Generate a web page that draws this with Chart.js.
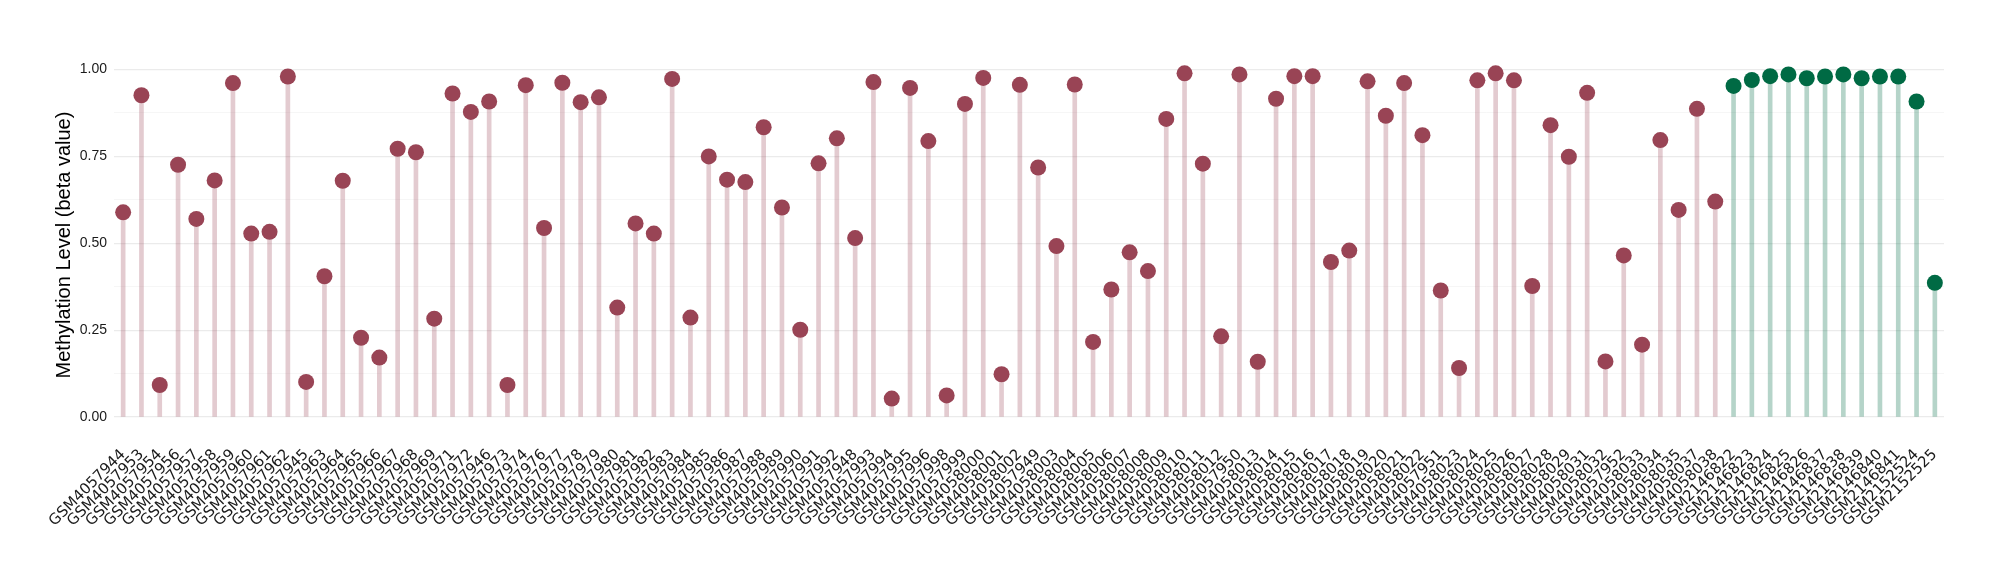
<!DOCTYPE html>
<html>
<head>
<meta charset="utf-8">
<script src="https://cdn.jsdelivr.net/npm/chart.js@4/dist/chart.umd.min.js"></script>
<style>
  html, body { margin: 0; padding: 0; background: #ffffff; }
  #wrap { width: 2000px; height: 580px; position: relative; }
</style>
</head>
<body>
<div id="wrap"><canvas id="c" width="2000" height="580"></canvas></div>
<script>
const categories = [
  "GSM4057944","GSM4057953","GSM4057954","GSM4057956","GSM4057957","GSM4057958","GSM4057959","GSM4057960","GSM4057961","GSM4057962",
  "GSM4057945","GSM4057963","GSM4057964","GSM4057965","GSM4057966","GSM4057967","GSM4057968","GSM4057969","GSM4057971","GSM4057972",
  "GSM4057946","GSM4057973","GSM4057974","GSM4057976","GSM4057977","GSM4057978","GSM4057979","GSM4057980","GSM4057981","GSM4057982",
  "GSM4057983","GSM4057984","GSM4057985","GSM4057986","GSM4057987","GSM4057988","GSM4057989","GSM4057990","GSM4057991","GSM4057992",
  "GSM4057948","GSM4057993","GSM4057994","GSM4057995","GSM4057996","GSM4057998","GSM4057999","GSM4058000","GSM4058001","GSM4058002",
  "GSM4057949","GSM4058003","GSM4058004","GSM4058005","GSM4058006","GSM4058007","GSM4058008","GSM4058009","GSM4058010","GSM4058011",
  "GSM4058012","GSM4057950","GSM4058013","GSM4058014","GSM4058015","GSM4058016","GSM4058017","GSM4058018","GSM4058019","GSM4058020",
  "GSM4058021","GSM4058022","GSM4057951","GSM4058023","GSM4058024","GSM4058025","GSM4058026","GSM4058027","GSM4058028","GSM4058029",
  "GSM4058031","GSM4058032","GSM4057952","GSM4058033","GSM4058034","GSM4058035","GSM4058037","GSM4058038","GSM2146822","GSM2146823",
  "GSM2146824","GSM2146825","GSM2146826","GSM2146837","GSM2146838","GSM2146839","GSM2146840","GSM2146841","GSM2152524","GSM2152525"
];

const betaValues = [
  0.589,0.926,0.092,0.726,0.570,0.681,0.961,0.528,0.533,0.980,
  0.101,0.405,0.680,0.228,0.171,0.772,0.762,0.283,0.931,0.878,
  0.908,0.092,0.955,0.544,0.962,0.906,0.920,0.315,0.557,0.528,
  0.973,0.286,0.750,0.683,0.676,0.834,0.603,0.251,0.730,0.802,
  0.515,0.964,0.053,0.947,0.794,0.062,0.901,0.976,0.123,0.956,
  0.718,0.492,0.957,0.216,0.367,0.474,0.420,0.858,0.989,0.729,
  0.232,0.986,0.159,0.916,0.981,0.981,0.446,0.479,0.966,0.867,
  0.961,0.811,0.364,0.141,0.969,0.989,0.969,0.377,0.840,0.749,
  0.933,0.160,0.465,0.208,0.797,0.596,0.887,0.620,0.953,0.970,
  0.981,0.986,0.975,0.980,0.986,0.975,0.980,0.980,0.908,0.386
];

const sampleGroup = [
  "A","A","A","A","A","A","A","A","A","A",
  "A","A","A","A","A","A","A","A","A","A",
  "A","A","A","A","A","A","A","A","A","A",
  "A","A","A","A","A","A","A","A","A","A",
  "A","A","A","A","A","A","A","A","A","A",
  "A","A","A","A","A","A","A","A","A","A",
  "A","A","A","A","A","A","A","A","A","A",
  "A","A","A","A","A","A","A","A","A","A",
  "A","A","A","A","A","A","A","A","B","B",
  "B","B","B","B","B","B","B","B","B","B"
];

const yTickValues = [0, 0.125, 0.25, 0.375, 0.5, 0.625, 0.75, 0.875, 1.0];
const yTickLabels = {"0": "0.00", "0.25": "0.25", "0.5": "0.50", "0.75": "0.75", "1": "1.00"};

const dotColor = { A: "#994455", B: "#006A44" };
const stemColor = { A: "rgba(153,68,85,0.28)", B: "rgba(0,106,68,0.29)" };

const ctx = document.getElementById("c").getContext("2d");
new Chart(ctx, {
  data: {
    labels: categories,
    datasets: [
      {
        type: "line",
        data: betaValues,
        showLine: false,
        pointRadius: 8,
        pointHoverRadius: 8,
        pointBorderWidth: 0,
        pointBackgroundColor: sampleGroup.map(g => dotColor[g]),
        pointBorderColor: sampleGroup.map(g => dotColor[g]),
        order: 0
      },
      {
        type: "bar",
        data: betaValues,
        backgroundColor: sampleGroup.map(g => stemColor[g]),
        barThickness: 4,
        borderWidth: 0,
        order: 1
      }
    ]
  },
  options: {
    responsive: false,
    animation: false,
    devicePixelRatio: 1,
    layout: { padding: { left: 48, right: 56, top: 56, bottom: 0 } },
    plugins: { legend: { display: false }, tooltip: { enabled: false } },
    scales: {
      x: {
        type: "category",
        offset: true,
        grid: { display: false },
        border: { display: false },
        ticks: {
          autoSkip: false,
          minRotation: 45,
          maxRotation: 45,
          padding: 4,
          color: "#1a1a1a",
          font: { family: "DejaVu Sans", size: 15 }
        },
        afterFit: (s) => { s.height = 146; }
      },
      y: {
        type: "linear",
        min: -0.049,
        max: 1.039,
        afterBuildTicks: (s) => { s.ticks = yTickValues.map(v => ({ value: v })); },
        afterFit: (s) => { s.width = 66; },
        border: { display: false },
        grid: {
          drawTicks: false,
          color: (c) => (Math.abs((c.tick.value * 4) - Math.round(c.tick.value * 4)) < 1e-6 ? "#ebebeb" : "#f4f4f4"),
          lineWidth: (c) => (Math.abs((c.tick.value * 4) - Math.round(c.tick.value * 4)) < 1e-6 ? 1.2 : 0.8)
        },
        ticks: {
          padding: 7,
          color: "#1a1a1a",
          font: { family: "Liberation Sans", size: 14 },
          callback: (v) => {
            const k = String(Math.round(v * 1000) / 1000);
            return yTickLabels[k] !== undefined ? yTickLabels[k] : "";
          }
        },
        title: {
          display: true,
          text: "Methylation Level (beta value)",
          color: "#000000",
          font: { family: "Liberation Sans", size: 20 },
          padding: { top: 4, bottom: 4 }
        }
      }
    }
  }
});
</script>
</body>
</html>
